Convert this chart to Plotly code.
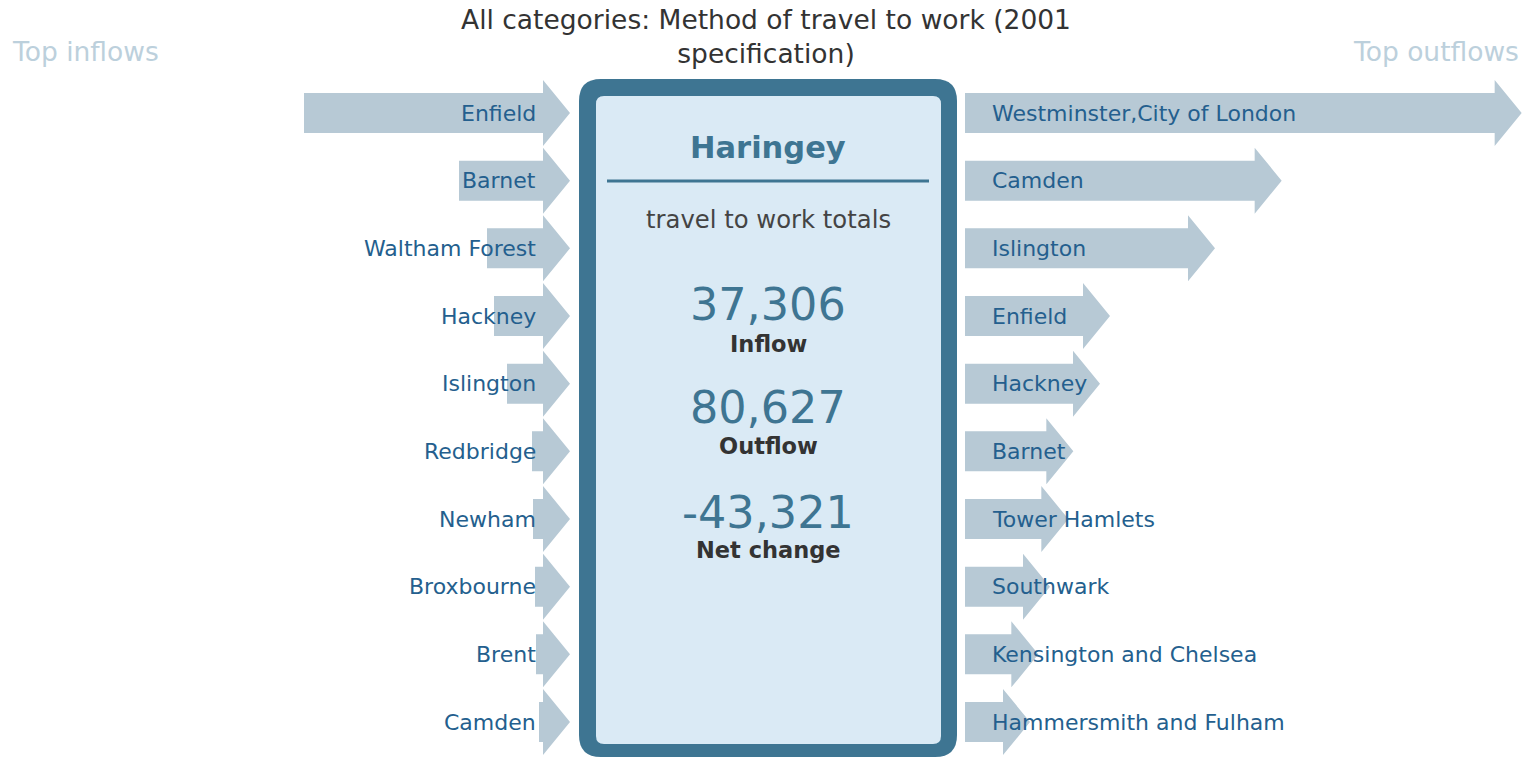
import plotly.graph_objects as go

# ---------------- data ----------------
inflow_names = ["Enfield", "Barnet", "Waltham Forest", "Hackney", "Islington",
                "Redbridge", "Newham", "Broxbourne", "Brent", "Camden"]
inflow_values = [7980, 3330, 2490, 2280, 1890, 1140, 1110, 1050, 1020, 930]

outflow_names = ["Westminster,City of London", "Camden", "Islington", "Enfield", "Hackney",
                 "Barnet", "Tower Hamlets", "Southwark", "Kensington and Chelsea",
                 "Hammersmith and Fulham"]
outflow_values = [16700, 9500, 7500, 4350, 4050, 3250, 3100, 2550, 2200, 1950]

area_name = "Haringey"
total_inflow = 37306
total_outflow = 80627
net_change = total_inflow - total_outflow
chart_title = "All categories: Method of travel to work (2001<br>specification)"

# ---------------- layout constants ----------------
W, H = 1528, 758
UNITS_PER_PX = 30          # people per pixel of arrow length
LEFT_TIP_PX = 570
RIGHT_BASE_PX = 965
ROW0_PX = 113
ROW_STEP_PX = 67.67
HEAD_LEN_PX = 27
SHAFT_HALF_PX = 20
HEAD_HALF_PX = 33

ARROW_COLOR = "#b7c9d5"
LABEL_COLOR = "#245f8e"
BOX_COLOR = "#3e7592"
BOX_FILL = "#daeaf5"
FONT = "DejaVu Sans, Verdana, sans-serif"

head_len = HEAD_LEN_PX * UNITS_PER_PX
shaft_half = SHAFT_HALF_PX / ROW_STEP_PX
head_half = HEAD_HALF_PX / ROW_STEP_PX


def arrow_xy(v, row):
    """Arrow whose tail is at v and tip at 0 (axis direction decides on-screen direction)."""
    hb = min(head_len, v)
    xs = [v, hb, hb, 0, hb, hb, v, v]
    ys = [row - shaft_half, row - shaft_half, row - head_half, row,
          row + head_half, row + shaft_half, row + shaft_half, row - shaft_half]
    return xs, ys


def out_arrow_xy(v, row):
    """Arrow whose tail is at 0 and tip at v."""
    hb = max(v - head_len, 0)
    xs = [0, hb, hb, v, hb, hb, 0, 0]
    ys = [row - shaft_half, row - shaft_half, row - head_half, row,
          row + head_half, row + shaft_half, row + shaft_half, row - shaft_half]
    return xs, ys


fig = go.Figure()
for i, v in enumerate(inflow_values):
    xs, ys = arrow_xy(v, i)
    fig.add_trace(go.Scatter(x=xs, y=ys, xaxis="x", yaxis="y", mode="lines",
                             fill="toself", fillcolor=ARROW_COLOR,
                             line=dict(width=0, color=ARROW_COLOR),
                             hoverinfo="skip", showlegend=False))
for i, v in enumerate(outflow_values):
    xs, ys = out_arrow_xy(v, i)
    fig.add_trace(go.Scatter(x=xs, y=ys, xaxis="x2", yaxis="y", mode="lines",
                             fill="toself", fillcolor=ARROW_COLOR,
                             line=dict(width=0, color=ARROW_COLOR),
                             hoverinfo="skip", showlegend=False))

annotations = []
for i, name in enumerate(inflow_names):
    annotations.append(dict(x=32 * UNITS_PER_PX, y=i, xref="x", yref="y", text=name,
                            showarrow=False, xanchor="right", yanchor="middle",
                            font=dict(family=FONT, size=22, color=LABEL_COLOR)))
for i, name in enumerate(outflow_names):
    annotations.append(dict(x=25 * UNITS_PER_PX, y=i, xref="x2", yref="y", text=name,
                            showarrow=False, xanchor="left", yanchor="middle",
                            font=dict(family=FONT, size=22, color=LABEL_COLOR)))


def px(x):
    return x / W


def py(y):
    return 1 - y / H


def paper_text(text, x, y, size, color, bold=False, xanchor="center"):
    if bold:
        text = "<b>" + text + "</b>"
    return dict(x=px(x), y=py(y), xref="paper", yref="paper", text=text,
                showarrow=False, xanchor=xanchor, yanchor="middle",
                font=dict(family=FONT, size=size, color=color))


CX = 768
annotations += [
    paper_text(chart_title, 766, 36, 26.5, "#333333"),
    paper_text("Top inflows", 10, 51, 26.5, "#bcd0dc", xanchor="left"),
    paper_text("Top outflows", 1521, 51, 26.5, "#bcd0dc", xanchor="right"),
    paper_text(area_name, CX, 148, 30.5, BOX_COLOR, bold=True),
    paper_text("travel to work totals", CX, 219, 24.3, "#444444"),
    paper_text(f"{total_inflow:,}", CX, 304, 44.5, BOX_COLOR),
    paper_text("Inflow", CX, 344, 22.5, "#333333", bold=True),
    paper_text(f"{total_outflow:,}", CX, 407, 44.5, BOX_COLOR),
    paper_text("Outflow", CX, 446, 22.5, "#333333", bold=True),
    paper_text(f"{net_change:,}", CX, 512, 44.5, BOX_COLOR),
    paper_text("Net change", CX, 550, 22.5, "#333333", bold=True),
]


def rounded_rect(x0, y0, x1, y1, r):
    rx, ry = r / W, r / H
    X0, X1 = px(x0), px(x1)
    Y0, Y1 = py(y0), py(y1)  # Y0 top (larger), Y1 bottom
    return (f"M {X0+rx},{Y0} L {X1-rx},{Y0} Q {X1},{Y0} {X1},{Y0-ry} "
            f"L {X1},{Y1+ry} Q {X1},{Y1} {X1-rx},{Y1} "
            f"L {X0+rx},{Y1} Q {X0},{Y1} {X0},{Y1+ry} "
            f"L {X0},{Y0-ry} Q {X0},{Y0} {X0+rx},{Y0} Z")


shapes = [
    dict(type="path", xref="paper", yref="paper", path=rounded_rect(579, 79, 957, 757, 22),
         fillcolor=BOX_COLOR, line=dict(width=0), layer="below"),
    dict(type="path", xref="paper", yref="paper", path=rounded_rect(596, 96, 941, 744, 8),
         fillcolor=BOX_FILL, line=dict(width=0), layer="below"),
    dict(type="line", xref="paper", yref="paper", x0=px(607), x1=px(929),
         y0=py(181), y1=py(181), line=dict(color=BOX_COLOR, width=3)),
]

fig.update_layout(
    width=W, height=H,
    margin=dict(l=0, r=0, t=0, b=0),
    paper_bgcolor="white", plot_bgcolor="white",
    xaxis=dict(domain=[0, LEFT_TIP_PX / W], range=[LEFT_TIP_PX * UNITS_PER_PX, 0],
               visible=False, fixedrange=True),
    xaxis2=dict(domain=[RIGHT_BASE_PX / W, 1], range=[0, (W - RIGHT_BASE_PX) * UNITS_PER_PX],
                anchor="y", visible=False, fixedrange=True),
    yaxis=dict(domain=[0, 1], range=[(H - ROW0_PX) / ROW_STEP_PX, -ROW0_PX / ROW_STEP_PX],
               visible=False, fixedrange=True),
    annotations=annotations,
    shapes=shapes,
    showlegend=False,
)

fig.write_html("out.html", post_script="document.body.style.margin='0';",
               config={"displayModeBar": False})
